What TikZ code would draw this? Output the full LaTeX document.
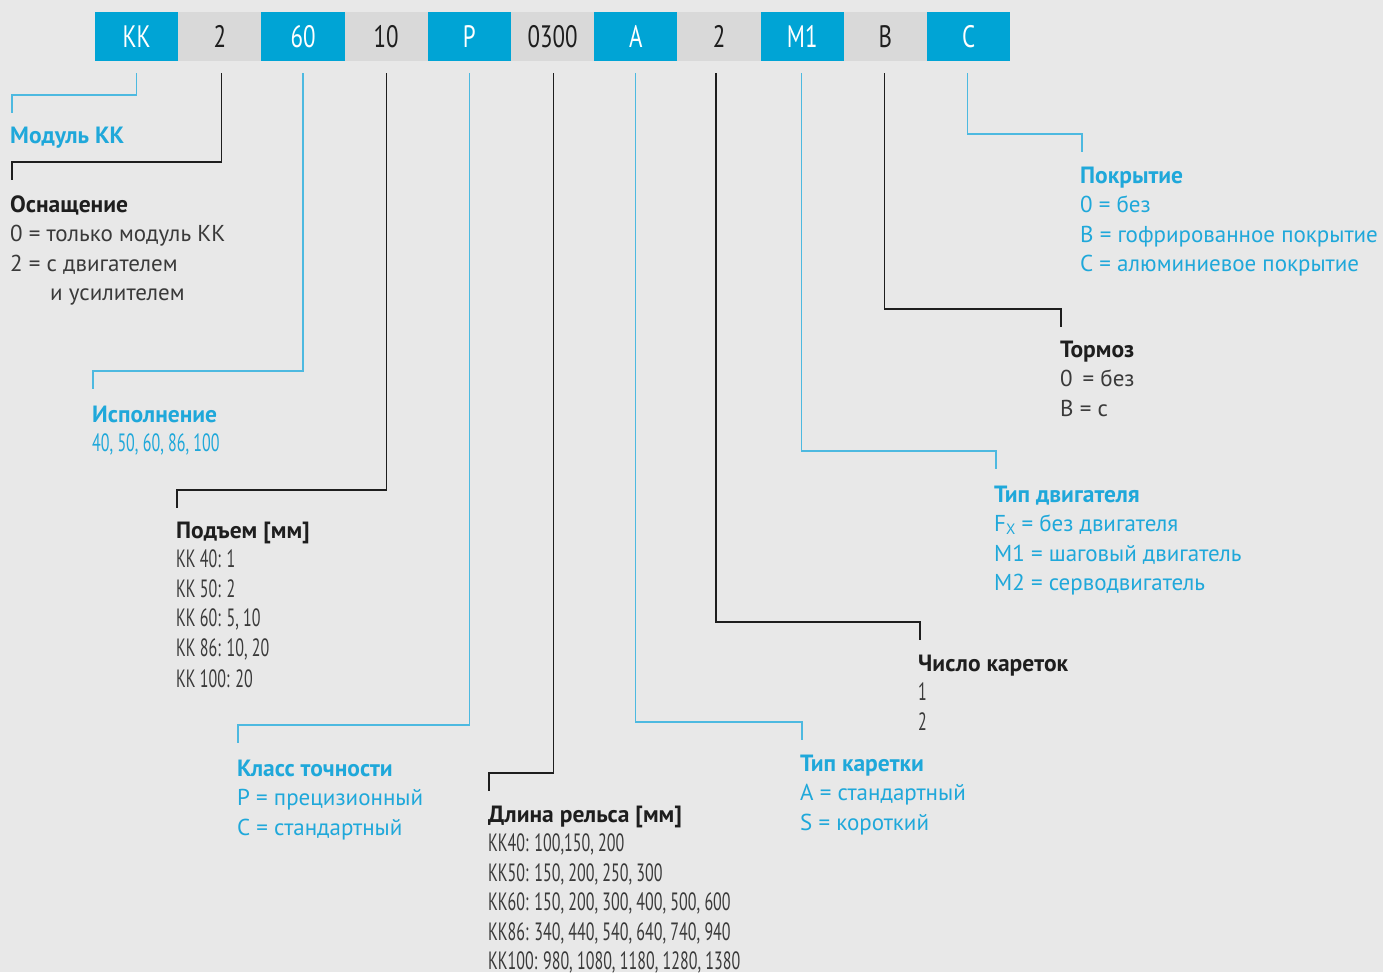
\documentclass[tikz,border=0pt]{standalone}
\usepackage{fontspec}
\setmainfont{PT Sans}
\newfontfamily\condfont[FakeStretch=0.64]{PT Sans}
\newfontfamily\cellfont[FakeStretch=0.74]{PT Sans}
\usetikzlibrary{positioning}
\definecolor{kkbg}{HTML}{E8E8E8}
\definecolor{kkblue}{HTML}{00A4D5}
\definecolor{kkgray}{HTML}{D9D9D9}
\definecolor{kkline}{HTML}{4DB9E0}
\definecolor{kktext}{HTML}{1FA8DA}
\definecolor{kkdark}{HTML}{1E1E1E}
\definecolor{kkbody}{HTML}{3A3A3A}
\newcommand{\lines}[1]{\begin{tabular}[t]{@{}l@{}}#1\end{tabular}}
\begin{document}
\begin{tikzpicture}[x=1pt, y=-1pt,
    cell/.style={minimum width=83.2pt, minimum height=49pt, inner sep=0pt, outer sep=0pt,
                 font=\cellfont\fontsize{31}{31}\selectfont},
    bcell/.style={cell, fill=kkblue, text=white},
    gcell/.style={cell, fill=kkgray, text=kkdark},
    head/.style={anchor=base west, inner sep=0pt, font=\bfseries\fontsize{23.5}{29.5}\selectfont},
    bhead/.style={head, text=kktext},
    dhead/.style={head, text=kkdark},
    body/.style={anchor=base west, inner sep=0pt,
                 font=\fontsize{23}{29.5}\selectfont},
    bbody/.style={body, text=kktext},
    dbody/.style={body, text=kkbody},
    nums/.style={font=\condfont\fontsize{25}{29.5}\selectfont},
    bwire/.style={draw=kkline, line width=1.2pt},
    dwire/.style={draw=kkdark, line width=1.2pt}]
  \fill[kkbg] (0,0) rectangle (1383,972);
  \useasboundingbox (0,0) rectangle (1383,972);

  % code cells
  \node[bcell, anchor=west] (kk) at (95,36.5) {KK};
  \node[gcell, right=0pt of kk]   (eq)   {2};
  \node[bcell, right=0pt of eq]   (size) {60};
  \node[gcell, right=0pt of size] (lead) {10};
  \node[bcell, right=0pt of lead] (acc)  {P};
  \node[gcell, right=0pt of acc]  (rail) {0300};
  \node[bcell, right=0pt of rail] (car)  {A};
  \node[gcell, right=0pt of car]  (ncar) {2};
  \node[bcell, right=0pt of ncar] (mot)  {M1};
  \node[gcell, right=0pt of mot]  (brk)  {B};
  \node[bcell, right=0pt of brk]  (cov)  {C};

  % captions
  \node[bhead] (hkk) at (10,143) {Модуль КК};

  \node[dhead] (heq) at (10,212) {Оснащение};
  \node[dbody] (beq) at (10,241.5) {\lines{0 = только модуль КК\\2 = с двигателем\\\hspace*{40pt}и усилителем}};

  \node[bhead] (hsize) at (92,422) {Исполнение};
  \node[bbody, nums] (bsize) at (92,451.5) {40, 50, 60, 86, 100};

  \node[dhead] (hlead) at (176,538) {Подъем [мм]};
  \node[dbody, nums] (blead) at (176,567.5) {\lines{КК 40: 1\\КК 50: 2\\КК 60: 5, 10\\КК 86: 10, 20\\[2pt]КК 100: 20}};

  \node[bhead] (hacc) at (237,776) {Класс точности};
  \node[bbody] (bacc) at (237,805.5) {\lines{P = прецизионный\\C = стандартный}};

  \node[dhead] (hrail) at (488,822) {Длина рельса [мм]};
  \node[dbody, nums] (brail) at (488,851.5) {\lines{KK40: 100,150, 200\\KK50: 150, 200, 250, 300\\KK60: 150, 200, 300, 400, 500, 600\\KK86: 340, 440, 540, 640, 740, 940\\KK100: 980, 1080, 1180, 1280, 1380}};

  \node[bhead] (hcar) at (800,771) {Тип каретки};
  \node[bbody] (bcar) at (800,800.5) {\lines{A = стандартный\\S = короткий}};

  \node[dhead] (hncar) at (918,671) {Число кареток};
  \node[dbody, nums] (bncar) at (918,700.5) {\lines{1\\2}};

  \node[bhead] (hmot) at (994,502) {Тип двигателя};
  \node[bbody] (bmot) at (994,531.5) {\lines{F\raisebox{-0.25ex}{\fontsize{15}{15}\selectfont X} = без двигателя\\M1 = шаговый двигатель\\M2 = серводвигатель}};

  \node[dhead] (hbrk) at (1060,357) {Тормоз};
  \node[dbody] (bbrk) at (1060,386.5) {\lines{0\, = без\\B = с}};

  \node[bhead] (hcov) at (1080,183) {Покрытие};
  \node[bbody] (bcov) at (1080,212.5) {\lines{0 = без\\B = гофрированное покрытие\\C = алюминиевое покрытие}};

  % connectors
  \draw[bwire] ([yshift=-12pt]kk.south)   |- ([xshift=2pt,yshift=48pt]hkk.base west)   -- ([xshift=2pt,yshift=30pt]hkk.base west);
  \draw[dwire] ([xshift=2pt,yshift=-12pt]eq.south) |- ([xshift=2pt,yshift=50pt]heq.base west) -- ([xshift=2pt,yshift=32pt]heq.base west);
  \draw[bwire] ([yshift=-12pt]size.south) |- ([xshift=1pt,yshift=51pt]hsize.base west) -- ([xshift=1pt,yshift=33pt]hsize.base west);
  \draw[dwire] ([yshift=-12pt]lead.south) |- ([xshift=1pt,yshift=48pt]hlead.base west) -- ([xshift=1pt,yshift=30pt]hlead.base west);
  \draw[bwire] ([yshift=-12pt]acc.south)  |- ([xshift=1pt,yshift=51pt]hacc.base west)  -- ([xshift=1pt,yshift=33pt]hacc.base west);
  \draw[dwire] ([xshift=1pt,yshift=-12pt]rail.south) |- ([xshift=1pt,yshift=49pt]hrail.base west) -- ([xshift=1pt,yshift=31pt]hrail.base west);
  \draw[bwire] ([yshift=-12pt]car.south)  |- ([xshift=2pt,yshift=49pt]hcar.base west)  -- ([xshift=2pt,yshift=31pt]hcar.base west);
  \draw[dwire] ([xshift=-3pt,yshift=-12pt]ncar.south) |- ([xshift=2pt,yshift=49pt]hncar.base west) -- ([xshift=2pt,yshift=31pt]hncar.base west);
  \draw[bwire] ([xshift=-1pt,yshift=-12pt]mot.south) |- ([xshift=2pt,yshift=51pt]hmot.base west) -- ([xshift=2pt,yshift=33pt]hmot.base west);
  \draw[dwire] ([xshift=-1pt,yshift=-12pt]brk.south) |- ([xshift=1pt,yshift=48pt]hbrk.base west) -- ([xshift=1pt,yshift=30pt]hbrk.base west);
  \draw[bwire] ([xshift=-1pt,yshift=-12pt]cov.south) |- ([xshift=2pt,yshift=49pt]hcov.base west) -- ([xshift=2pt,yshift=31pt]hcov.base west);
\end{tikzpicture}
\end{document}
